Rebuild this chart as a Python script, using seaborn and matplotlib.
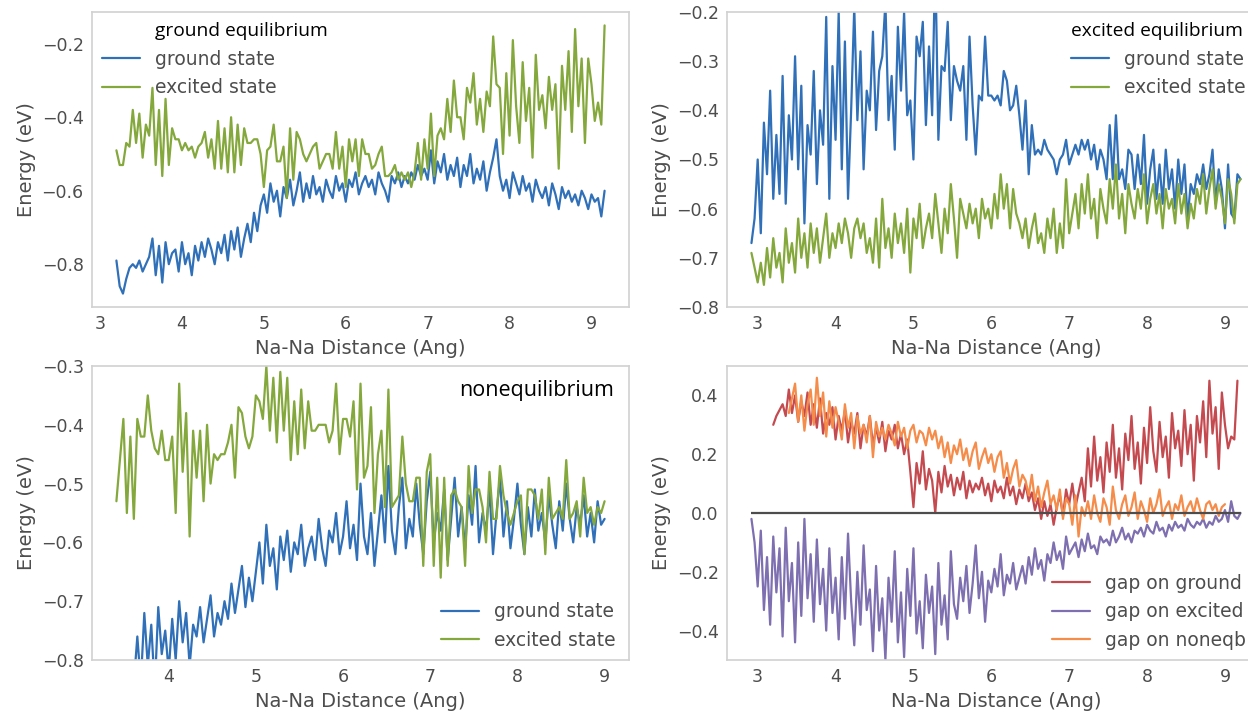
import numpy as np
import matplotlib
matplotlib.use('Agg')
import matplotlib.pyplot as plt
import seaborn as sns
from matplotlib.lines import Line2D

# ---- ground-state equilibrium trajectory ----
dist_geq = [
    3.20, 3.24, 3.28, 3.32, 3.36, 3.40, 3.44, 3.48, 3.52, 3.56,
    3.60, 3.64, 3.68, 3.72, 3.76, 3.80, 3.84, 3.88, 3.92, 3.96,
    4.00, 4.04, 4.08, 4.12, 4.16, 4.20, 4.24, 4.28, 4.32, 4.36,
    4.40, 4.44, 4.48, 4.52, 4.56, 4.60, 4.64, 4.68, 4.72, 4.76,
    4.80, 4.84, 4.88, 4.92, 4.96, 5.00, 5.04, 5.08, 5.12, 5.16,
    5.20, 5.24, 5.28, 5.32, 5.36, 5.40, 5.44, 5.48, 5.52, 5.56,
    5.60, 5.64, 5.68, 5.72, 5.76, 5.80, 5.84, 5.88, 5.92, 5.96,
    6.00, 6.04, 6.08, 6.12, 6.16, 6.20, 6.24, 6.28, 6.32, 6.36,
    6.40, 6.44, 6.48, 6.52, 6.56, 6.60, 6.64, 6.68, 6.72, 6.76,
    6.80, 6.84, 6.88, 6.92, 6.96, 7.00, 7.04, 7.08, 7.12, 7.16,
    7.20, 7.24, 7.28, 7.32, 7.36, 7.40, 7.44, 7.48, 7.52, 7.56,
    7.60, 7.64, 7.68, 7.72, 7.76, 7.80, 7.84, 7.88, 7.92, 7.96,
    8.00, 8.04, 8.08, 8.12, 8.16, 8.20, 8.24, 8.28, 8.32, 8.36,
    8.40, 8.44, 8.48, 8.52, 8.56, 8.60, 8.64, 8.68, 8.72, 8.76,
    8.80, 8.84, 8.88, 8.92, 8.96, 9.00, 9.04, 9.08, 9.12, 9.16,
]
ground_geq = [
    -0.79, -0.86, -0.88, -0.84, -0.81,
    -0.80, -0.81, -0.79, -0.82, -0.80, -0.78,
    -0.73, -0.83, -0.75, -0.85, -0.74, -0.80, -0.77,
    -0.76, -0.82, -0.74, -0.80, -0.77, -0.83, -0.75, -0.79,
    -0.74, -0.78, -0.73, -0.76, -0.80, -0.74, -0.77,
    -0.72, -0.79, -0.71, -0.76, -0.70, -0.78, -0.73,
    -0.69, -0.74, -0.66, -0.71, -0.64,
    -0.61, -0.66, -0.58, -0.63, -0.60, -0.67,
    -0.59, -0.62, -0.57, -0.64, -0.60, -0.55, -0.63,
    -0.58, -0.62, -0.56, -0.61, -0.59, -0.63, -0.57, -0.60,
    -0.62, -0.56, -0.60, -0.58, -0.63, -0.57, -0.59, -0.55, -0.61, -0.58,
    -0.56, -0.59, -0.57, -0.61, -0.55, -0.58, -0.60,
    -0.63, -0.56, -0.58, -0.55, -0.59, -0.56, -0.58,
    -0.55, -0.57, -0.53, -0.56, -0.54, -0.57,
    -0.49, -0.58, -0.52, -0.55, -0.50, -0.57, -0.53,
    -0.56, -0.51, -0.59, -0.53, -0.56, -0.50, -0.58,
    -0.54, -0.57, -0.52, -0.60, -0.55, -0.51, -0.46,
    -0.56, -0.60, -0.57, -0.62, -0.55, -0.58, -0.61,
    -0.56, -0.60, -0.58, -0.63, -0.57, -0.60, -0.62,
    -0.59, -0.64, -0.58, -0.61, -0.65, -0.59, -0.62,
    -0.60, -0.63, -0.61, -0.64, -0.60, -0.62, -0.65,
    -0.61, -0.63, -0.62, -0.67, -0.60,
]
gap_geq = [
    0.30, 0.33, 0.35, 0.37, 0.33,
    0.42, 0.34, 0.40, 0.31, 0.38, 0.33,
    0.41, 0.30, 0.37, 0.29, 0.39, 0.27, 0.34,
    0.30, 0.36, 0.25, 0.33, 0.28, 0.35, 0.24, 0.31,
    0.27, 0.34, 0.22, 0.30, 0.26, 0.33, 0.23,
    0.29, 0.24, 0.31, 0.21, 0.28, 0.25, 0.30,
    0.22, 0.27, 0.20, 0.25, 0.14,
    0.02, 0.17, 0.10, 0.21, 0.08, 0.15,
    0.11, 0.00, 0.14, 0.07, 0.16, 0.09, 0.13,
    0.06, 0.12, 0.08, 0.14, 0.05, 0.11, 0.07, 0.10,
    0.08, 0.12, 0.06, 0.10, 0.04, 0.11, 0.07, 0.09, 0.05, 0.12,
    0.06, 0.09, 0.03, 0.08, 0.05, 0.10, 0.04,
    0.07, 0.01, 0.05, -0.02, 0.04, -0.01, 0.03,
    -0.04, 0.02, 0.06, -0.01, 0.08, 0.03,
    0.10, 0.02, 0.07, 0.12, 0.04, 0.22, 0.09,
    0.26, 0.11, 0.19, 0.07, 0.24, 0.14, 0.30,
    0.12, 0.22, 0.08, 0.27, 0.18, 0.33, 0.15,
    0.24, 0.10, 0.29, 0.17, 0.36, 0.21, 0.14,
    0.31, 0.19, 0.26, 0.12, 0.34, 0.22, 0.28,
    0.16, 0.35, 0.20, 0.30, 0.11, 0.33, 0.24,
    0.38, 0.19, 0.45, 0.27, 0.36, 0.15, 0.41,
    0.30, 0.22, 0.26, 0.25, 0.45,
]

# ---- excited-state equilibrium trajectory ----
dist_eeq = [
    2.92, 2.96, 3.00, 3.04, 3.08, 3.12, 3.16, 3.20, 3.24, 3.28,
    3.32, 3.36, 3.40, 3.44, 3.48, 3.52, 3.56, 3.60, 3.64, 3.68,
    3.72, 3.76, 3.80, 3.84, 3.88, 3.92, 3.96, 4.00, 4.04, 4.08,
    4.12, 4.16, 4.20, 4.24, 4.28, 4.32, 4.36, 4.40, 4.44, 4.48,
    4.52, 4.56, 4.60, 4.64, 4.68, 4.72, 4.76, 4.80, 4.84, 4.88,
    4.92, 4.96, 5.00, 5.04, 5.08, 5.12, 5.16, 5.20, 5.24, 5.28,
    5.32, 5.36, 5.40, 5.44, 5.48, 5.52, 5.56, 5.60, 5.64, 5.68,
    5.72, 5.76, 5.80, 5.84, 5.88, 5.92, 5.96, 6.00, 6.04, 6.08,
    6.12, 6.16, 6.20, 6.24, 6.28, 6.32, 6.36, 6.40, 6.44, 6.48,
    6.52, 6.56, 6.60, 6.64, 6.68, 6.72, 6.76, 6.80, 6.84, 6.88,
    6.92, 6.96, 7.00, 7.04, 7.08, 7.12, 7.16, 7.20, 7.24, 7.28,
    7.32, 7.36, 7.40, 7.44, 7.48, 7.52, 7.56, 7.60, 7.64, 7.68,
    7.72, 7.76, 7.80, 7.84, 7.88, 7.92, 7.96, 8.00, 8.04, 8.08,
    8.12, 8.16, 8.20, 8.24, 8.28, 8.32, 8.36, 8.40, 8.44, 8.48,
    8.52, 8.56, 8.60, 8.64, 8.68, 8.72, 8.76, 8.80, 8.84, 8.88,
    8.92, 8.96, 9.00, 9.04, 9.08, 9.12, 9.16, 9.20,
]
excited_eeq = [
    -0.69, -0.72, -0.75, -0.71, -0.755, -0.68,
    -0.74, -0.66, -0.72, -0.69, -0.75, -0.64, -0.71,
    -0.67, -0.73, -0.62, -0.70, -0.65, -0.72, -0.63,
    -0.69, -0.64, -0.71, -0.66, -0.61, -0.70, -0.65, -0.68,
    -0.63, -0.67, -0.62, -0.65, -0.70, -0.64, -0.62, -0.66, -0.63, -0.69,
    -0.66, -0.71, -0.62, -0.72, -0.58, -0.68, -0.64, -0.70, -0.61, -0.67,
    -0.63, -0.69, -0.60, -0.73, -0.62, -0.66, -0.59, -0.68, -0.64, -0.61,
    -0.66, -0.57, -0.63, -0.69, -0.60, -0.65, -0.55, -0.62, -0.70, -0.58,
    -0.61, -0.64, -0.59, -0.63, -0.60, -0.66, -0.58, -0.62, -0.60, -0.64,
    -0.57, -0.62, -0.53, -0.60, -0.55, -0.64, -0.56, -0.61,
    -0.63, -0.66, -0.62, -0.68, -0.64, -0.61, -0.67, -0.65, -0.69, -0.62,
    -0.66, -0.60, -0.69, -0.63, -0.68, -0.54, -0.65, -0.61,
    -0.57, -0.64, -0.55, -0.61, -0.53, -0.62, -0.58, -0.66, -0.56, -0.60,
    -0.63, -0.54, -0.60, -0.51, -0.62, -0.57, -0.65, -0.55, -0.59, -0.62,
    -0.56, -0.60, -0.53, -0.63, -0.58, -0.55, -0.61, -0.57, -0.64, -0.56,
    -0.60, -0.58, -0.63, -0.55, -0.61, -0.57, -0.64, -0.59, -0.62, -0.56,
    -0.59, -0.53, -0.61, -0.56, -0.52, -0.60, -0.55, -0.58, -0.63, -0.54,
    -0.57, -0.63, -0.55, -0.54,
]
gap_eeq = [
    -0.02, -0.10, -0.25, -0.06, -0.33, -0.15,
    -0.38, -0.08, -0.27, -0.12, -0.42, -0.05, -0.30,
    -0.17, -0.44, -0.10, -0.35, -0.02, -0.29, -0.14,
    -0.37, -0.09, -0.31, -0.19, -0.40, -0.12, -0.34, -0.22,
    -0.43, -0.15, -0.36, -0.07, -0.30, -0.45, -0.20, -0.38, -0.11, -0.33,
    -0.26, -0.47, -0.18, -0.40, -0.29, -0.50, -0.22, -0.37, -0.13, -0.44,
    -0.27, -0.49, -0.19, -0.35, -0.12, -0.41, -0.30, -0.46, -0.21, -0.34,
    -0.25, -0.48, -0.17, -0.38, -0.28, -0.43, -0.13, -0.31, -0.36, -0.22,
    -0.30, -0.18, -0.34, -0.24, -0.11, -0.29, -0.20, -0.37, -0.23, -0.27,
    -0.19, -0.25, -0.14, -0.28, -0.21, -0.24, -0.17, -0.26,
    -0.22, -0.18, -0.24, -0.15, -0.21, -0.12, -0.19, -0.16, -0.23, -0.14,
    -0.17, -0.10, -0.16, -0.13, -0.19, -0.08, -0.14, -0.12,
    -0.10, -0.15, -0.09, -0.13, -0.07, -0.12, -0.11, -0.14, -0.08, -0.10,
    -0.09, -0.11, -0.06, -0.10, -0.08, -0.05, -0.09, -0.07, -0.10, -0.06,
    -0.07, -0.05, -0.08, -0.04, -0.06, -0.07, -0.03, -0.06, -0.05, -0.08,
    -0.04, -0.06, -0.03, -0.05, -0.04, -0.06, -0.02, -0.04, -0.05, -0.03,
    -0.04, -0.02, -0.05, -0.03, -0.04, -0.01, -0.03, -0.02, 0.01, -0.03,
    0.04, -0.01, -0.02, 0.00,
]

# ---- nonequilibrium trajectory ----
dist_neq = [
    3.40, 3.44, 3.48, 3.52, 3.56, 3.60, 3.64, 3.68, 3.72, 3.76,
    3.80, 3.84, 3.88, 3.92, 3.96, 4.00, 4.04, 4.08, 4.12, 4.16,
    4.20, 4.24, 4.28, 4.32, 4.36, 4.40, 4.44, 4.48, 4.52, 4.56,
    4.60, 4.64, 4.68, 4.72, 4.76, 4.80, 4.84, 4.88, 4.92, 4.96,
    5.00, 5.04, 5.08, 5.12, 5.16, 5.20, 5.24, 5.28, 5.32, 5.36,
    5.40, 5.44, 5.48, 5.52, 5.56, 5.60, 5.64, 5.68, 5.72, 5.76,
    5.80, 5.84, 5.88, 5.92, 5.96, 6.00, 6.04, 6.08, 6.12, 6.16,
    6.20, 6.24, 6.28, 6.32, 6.36, 6.40, 6.44, 6.48, 6.52, 6.56,
    6.60, 6.64, 6.68, 6.72, 6.76, 6.80, 6.84, 6.88, 6.92, 6.96,
    7.00, 7.04, 7.08, 7.12, 7.16, 7.20, 7.24, 7.28, 7.32, 7.36,
    7.40, 7.44, 7.48, 7.52, 7.56, 7.60, 7.64, 7.68, 7.72, 7.76,
    7.80, 7.84, 7.88, 7.92, 7.96, 8.00, 8.04, 8.08, 8.12, 8.16,
    8.20, 8.24, 8.28, 8.32, 8.36, 8.40, 8.44, 8.48, 8.52, 8.56,
    8.60, 8.64, 8.68, 8.72, 8.76, 8.80, 8.84, 8.88, 8.92, 8.96,
    9.00,
]
ground_neq = [
    -0.87, -0.85, -0.83, -0.86, -0.82, -0.84,
    -0.76, -0.84, -0.72, -0.81, -0.74, -0.85, -0.71, -0.79, -0.75, -0.82,
    -0.73, -0.80, -0.70, -0.77, -0.72, -0.81, -0.74, -0.76,
    -0.71, -0.77, -0.73, -0.69, -0.76, -0.72, -0.74,
    -0.70, -0.73, -0.67, -0.72, -0.68, -0.64, -0.71, -0.66, -0.70, -0.65,
    -0.60, -0.67, -0.57, -0.64, -0.61, -0.68, -0.59,
    -0.63, -0.58, -0.65, -0.60, -0.62, -0.57, -0.64, -0.61,
    -0.59, -0.63, -0.56, -0.61, -0.64, -0.58, -0.60, -0.55, -0.62, -0.59,
    -0.53, -0.61, -0.57, -0.63, -0.50, -0.59, -0.62, -0.55, -0.64, -0.58,
    -0.52, -0.60, -0.47, -0.58, -0.62, -0.54, -0.49, -0.61, -0.56, -0.59,
    -0.50, -0.57, -0.62, -0.53, -0.48, -0.60, -0.55, -0.58, -0.51, -0.63,
    -0.56, -0.49, -0.59, -0.54, -0.61, -0.52, -0.57, -0.47, -0.60, -0.55,
    -0.58, -0.51, -0.62, -0.55, -0.49, -0.59, -0.53, -0.61, -0.56, -0.50,
    -0.57, -0.62, -0.54, -0.59, -0.51, -0.58, -0.55, -0.60, -0.52, -0.57,
    -0.61, -0.53, -0.58, -0.50, -0.56, -0.60, -0.54, -0.57, -0.52, -0.59,
    -0.55, -0.60, -0.53, -0.57, -0.56,
]
gap_neq = [
    0.34, 0.39, 0.44, 0.31, 0.40, 0.28,
    0.37, 0.42, 0.30, 0.46, 0.33, 0.41, 0.26, 0.38, 0.29, 0.36,
    0.31, 0.25, 0.37, 0.29, 0.34, 0.22, 0.33, 0.27,
    0.30, 0.24, 0.33, 0.19, 0.31, 0.26, 0.29,
    0.25, 0.30, 0.27, 0.23, 0.31, 0.26, 0.29, 0.22, 0.28, 0.30,
    0.24, 0.28, 0.27, 0.23, 0.29, 0.25, 0.28,
    0.22, 0.26, 0.19, 0.24, 0.17, 0.23, 0.20, 0.25,
    0.18, 0.22, 0.16, 0.21, 0.24, 0.15, 0.19, 0.22, 0.17, 0.20,
    0.14, 0.19, 0.21, 0.12, 0.17, 0.10, 0.15, 0.18, 0.09, 0.13,
    0.11, 0.06, 0.13, 0.04, 0.09, 0.02, 0.07, 0.11, 0.03, 0.06,
    0.01, 0.08, -0.02, 0.05, 0.03, -0.04, 0.06, -0.08, 0.02, -0.01,
    0.04, -0.02, 0.06, 0.00, -0.03, 0.05, 0.02, -0.04, 0.09, 0.01,
    -0.02, 0.03, 0.06, -0.01, 0.02, 0.07, -0.02, 0.04, 0.01, -0.03,
    0.05, 0.00, 0.03, 0.08, -0.01, 0.02, 0.04, -0.02, 0.03, 0.01,
    0.06, -0.01, 0.02, 0.04, 0.00, 0.05, 0.01, -0.02, 0.03, 0.04,
    0.01, 0.03, -0.01, 0.02, 0.03,
]

# the gap is E(excited) - E(ground) along each trajectory
excited_geq = np.add(ground_geq, gap_geq)
ground_eeq = np.subtract(excited_eeq, gap_eeq)
excited_neq = np.add(ground_neq, gap_neq)

BLUE = '#3070b8'
GREEN = '#84a83c'
RED = '#c44a4f'
PURPLE = '#7d6fb0'
ORANGE = '#f58c4a'
TEXT = '0.3'
NOTE_FONT = ['Open Sans', 'DejaVu Sans']
LW = 1.6
PAD = 0.15
RIGHT = 0.983   # right panels run past the figure edge; keep legends inside

sns.set_style('whitegrid', {'axes.grid': False, 'axes.edgecolor': '.82'})
plt.rcParams.update({
    'font.family': ['DejaVu Sans'],
    'axes.labelsize': 14,
    'xtick.labelsize': 12.5,
    'ytick.labelsize': 12.5,
    'legend.fontsize': 13.5,
    'text.color': TEXT,
    'axes.labelcolor': TEXT,
    'xtick.color': TEXT,
    'ytick.color': TEXT,
    'axes.linewidth': 1.2,
})

fig = plt.figure(figsize=(12.48, 7.14), dpi=100)
W, H = 1248, 714
ax1 = fig.add_axes([92 / W, (H - 307) / H, 537 / W, 295 / H])
ax2 = fig.add_axes([727 / W, (H - 307) / H, 538 / W, 295 / H])
ax3 = fig.add_axes([92 / W, (H - 660) / H, 537 / W, 294 / H])
ax4 = fig.add_axes([727 / W, (H - 660) / H, 538 / W, 294 / H])

# --- ground equilibrium ---
sns.lineplot(x=dist_geq, y=ground_geq, ax=ax1, color=BLUE, lw=LW, label='ground state')
sns.lineplot(x=dist_geq, y=excited_geq, ax=ax1, color=GREEN, lw=LW, label='excited state')
handles, labels = ax1.get_legend_handles_labels()
blank = Line2D([], [], linestyle='none')
leg = ax1.legend([blank] + handles, ['ground equilibrium'] + labels,
                 loc='upper left', frameon=False, borderaxespad=PAD)
leg.get_texts()[0].set_color('black')
leg.get_texts()[0].set_fontfamily(NOTE_FONT)
leg.get_texts()[0].set_fontsize(13.8)

# --- excited equilibrium ---
sns.lineplot(x=dist_eeq, y=ground_eeq, ax=ax2, color=BLUE, lw=LW, label='ground state')
sns.lineplot(x=dist_eeq, y=excited_eeq, ax=ax2, color=GREEN, lw=LW, label='excited state')
ax2.set_ylim(-0.8, -0.2)
leg = ax2.legend(loc='upper right', bbox_to_anchor=(RIGHT, 1.0), frameon=False,
                 title='excited equilibrium', alignment='left', borderaxespad=PAD,
                 title_fontproperties={'family': NOTE_FONT, 'size': 13.8})
leg.get_title().set_color('black')

# --- nonequilibrium ---
sns.lineplot(x=dist_neq, y=ground_neq, ax=ax3, color=BLUE, lw=LW, label='ground state')
sns.lineplot(x=dist_neq, y=excited_neq, ax=ax3, color=GREEN, lw=LW, label='excited state')
ax3.set_ylim(-0.8, -0.3)
ax3.legend(loc='lower right', bbox_to_anchor=(0.994, 0.0), frameon=False,
           borderaxespad=PAD)
ax3.text(0.972, 0.918, 'nonequilibrium', transform=ax3.transAxes, ha='right',
         va='center', color='black', family=NOTE_FONT, size=15.5)

# --- gaps ---
sns.lineplot(x=dist_geq, y=gap_geq, ax=ax4, color=RED, lw=LW, label='gap on ground')
sns.lineplot(x=dist_eeq, y=gap_eeq, ax=ax4, color=PURPLE, lw=LW, label='gap on excited')
sns.lineplot(x=dist_neq, y=gap_neq, ax=ax4, color=ORANGE, lw=LW, label='gap on noneqb')
ax4.hlines(0, dist_eeq[0], dist_eeq[-1], color='0.3', lw=1.6, zorder=5)
ax4.set_ylim(-0.5, 0.5)
ax4.legend(loc='lower right', bbox_to_anchor=(RIGHT, 0.0), frameon=False,
           borderaxespad=PAD)

for ax in (ax1, ax2, ax3, ax4):
    ax.set_xlabel('Na-Na Distance (Ang)')
    ax.set_ylabel('Energy (eV)')
    ax.tick_params(length=0, pad=6)

fig.savefig('out.png', dpi=100)
